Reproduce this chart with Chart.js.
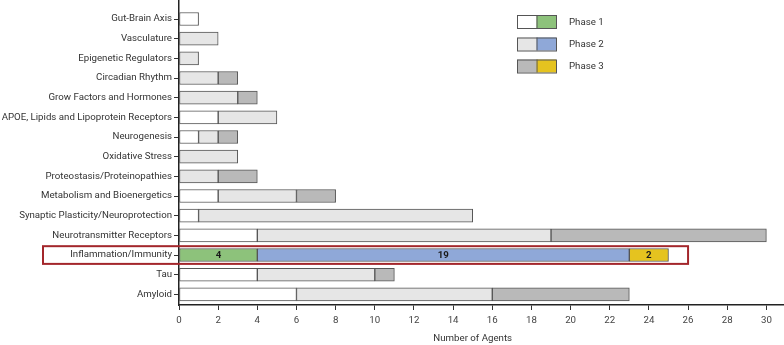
<!DOCTYPE html>
<html><head><meta charset="utf-8">
<script src="https://cdn.jsdelivr.net/npm/chart.js@4.4.0/dist/chart.umd.min.js"></script>
<style>html,body{margin:0;padding:0;background:#fff}#wrap{width:784px;height:345px;position:relative}</style>
</head><body><div id="wrap"><canvas id="c"></canvas></div>
<script>
const categories = ["Gut-Brain Axis","Vasculature","Epigenetic Regulators","Circadian Rhythm","Grow Factors and Hormones","APOE, Lipids and Lipoprotein Receptors","Neurogenesis","Oxidative Stress","Proteostasis/Proteinopathies","Metabolism and Bioenergetics","Synaptic Plasticity/Neuroprotection","Neurotransmitter Receptors","Inflammation/Immunity","Tau","Amyloid"];
const phase1 = [1,0,0,0,0,2,1,0,0,2,1,4,4,4,6];
const phase2 = [0,2,1,2,3,3,1,3,2,4,14,15,19,6,10];
const phase3 = [0,0,0,1,1,0,1,0,2,2,0,11,2,1,7];
const xTicks = [0,2,4,6,8,10,12,14,16,18,20,22,24,26,28,30];
const seriesNames = ["Phase 1","Phase 2","Phase 3"];
const xTitle = "Number of Agents";
const highlighted = "Inflammation/Immunity";
const highlightBoxEnd = 26;

const FONT = "Roboto, 'Liberation Sans', sans-serif";
const FS = 9.7;
const BORDER = '#555555';
const baseColors = ['#ffffff', '#e6e6e6', '#b9b9b9'];
const hiColors = ['#8dc27b', '#8fa8d8', '#e5c31f'];
const hiIndex = categories.indexOf(highlighted);

const series = [phase1, phase2, phase3];
const datasets = series.map((vals, s) => ({
  label: seriesNames[s],
  data: vals.map((v, i) => ({ x: v === 0 ? null : v, y: i })),
  backgroundColor: vals.map((v, i) => i === hiIndex ? hiColors[s] : baseColors[s]),
  borderColor: BORDER,
  borderWidth: 1,
  borderSkipped: false,
  barThickness: 13
}));

const overlayPlugin = {
  id: 'overlay',
  afterDatasetsDraw(chart) {
    const ctx = chart.ctx;
    const xs = chart.scales.x, ys = chart.scales.y;
    const t = ys.getPixelForValue(hiIndex - 0.45), b = ys.getPixelForValue(hiIndex + 0.45);
    const right = xs.getPixelForValue(highlightBoxEnd);
    const left = 43;
    ctx.save();
    // highlight frame
    ctx.strokeStyle = '#a3262b';
    ctx.lineWidth = 2;
    ctx.strokeRect(left, Math.min(t, b), right - left, Math.abs(b - t));
    // value labels in highlighted bar
    ctx.font = "bold " + FS + "px " + FONT;
    ctx.textAlign = 'center';
    ctx.textBaseline = 'middle';
    ctx.fillStyle = '#1a1a1a';
    chart.data.datasets.forEach((ds, di) => {
      const el = chart.getDatasetMeta(di).data[hiIndex];
      const v = series[di][hiIndex];
      if (!el || !v) return;
      ctx.fillText(String(v), (el.x + el.base) / 2, el.y + 0.5);
    });
    // x axis title, centred under the 0..30 range
    ctx.font = FS + "px " + FONT;
    ctx.fillStyle = '#333';
    const mid = xs.getPixelForValue((xTicks[0] + xTicks[xTicks.length - 1]) / 2);
    ctx.fillText(xTitle, mid, 339);
    // legend
    const lx = 517, lw = 39, lh = 13, tx = 569;
    const lys = [15, 37.5, 59.5];
    ctx.textAlign = 'left';
    seriesNames.forEach((name, s) => {
      const y = lys[s];
      ctx.fillStyle = baseColors[s];
      ctx.fillRect(lx, y, lw / 2, lh);
      ctx.fillStyle = hiColors[s];
      ctx.fillRect(lx + lw / 2, y, lw / 2, lh);
      ctx.strokeStyle = BORDER;
      ctx.lineWidth = 1;
      ctx.strokeRect(lx + 0.5, y + 0.5, lw, lh);
      ctx.beginPath();
      ctx.moveTo(lx + lw / 2 + 0.5, y);
      ctx.lineTo(lx + lw / 2 + 0.5, y + lh);
      ctx.stroke();
      ctx.fillStyle = '#333';
      ctx.fillText(name, tx, y + lh / 2 + 1);
    });
    ctx.restore();
  }
};

new Chart(document.getElementById('c'), {
  type: 'bar',
  data: { datasets },
  plugins: [overlayPlugin],
  options: {
    indexAxis: 'y',
    responsive: true,
    maintainAspectRatio: false,
    animation: false,
    layout: { padding: 0 },
    plugins: { legend: { display: false }, tooltip: { enabled: false } },
    scales: {
      x: {
        type: 'linear',
        stacked: true,
        min: 0,
        max: 30.9,
        offset: false,
        afterBuildTicks: sc => { sc.ticks = xTicks.map(v => ({ value: v })); },
        afterFit: sc => { sc.height = 40; sc.paddingLeft = 0; sc.paddingRight = 0; sc.paddingTop = 0; sc.paddingBottom = 0; },
        grid: { drawOnChartArea: false, drawTicks: true, tickLength: 5, tickColor: '#333', tickWidth: 1, offset: false },
        border: { display: true, color: '#222', width: 1.5 },
        ticks: { color: '#444', font: { family: FONT, size: FS }, padding: 5, maxRotation: 0, autoSkip: false },
        title: { display: false }
      },
      y: {
        type: 'linear',
        stacked: true,
        reverse: true,
        min: -0.966,
        max: 14.54,
        offset: false,
        afterBuildTicks: sc => { sc.ticks = categories.map((c, i) => ({ value: i })); },
        afterFit: sc => { sc.width = 179; sc.paddingLeft = 0; sc.paddingRight = 0; sc.paddingTop = 0; sc.paddingBottom = 0; },
        grid: { drawOnChartArea: false, drawTicks: true, tickLength: 5, tickColor: '#333', tickWidth: 1, offset: false },
        border: { display: true, color: '#222', width: 1.5 },
        ticks: { color: '#333', font: { family: FONT, size: FS }, padding: 2, autoSkip: false,
          callback: v => categories[v] !== undefined ? categories[v] : '' }
      }
    }
  }
});
</script>
</body></html>
